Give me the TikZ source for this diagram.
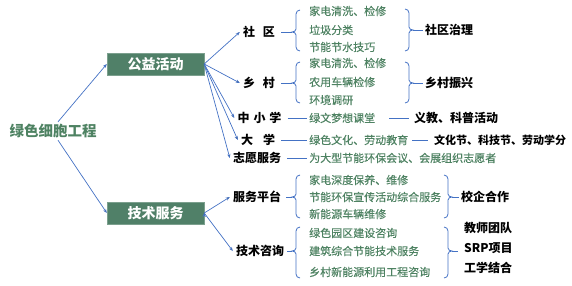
\documentclass[tikz,border=0pt]{standalone}
\usepackage{fontspec}
\setmainfont{Noto Sans CJK SC}
\newfontfamily\itemfont{Noto Sans CJK SC}[FakeBold=0.3]
\usepackage{tikz}
\usetikzlibrary{
    arrows.meta
}
\definecolor{boxgreen}{RGB}{80,128,104}
\definecolor{txtgreen}{RGB}{78,130,98}
\definecolor{lineblue}{RGB}{68,114,196}
\tikzset{
    >={Stealth[length=4pt,width=3.2pt]},
    root/.style={
        font=\fontsize{14.5}{16}\selectfont\bfseries,
        text=txtgreen,
        inner sep=2pt
    },
    block/.style={
        fill=boxgreen,
        draw=boxgreen!75!white,
        text=white,
        font=\fontsize{14}{16}\selectfont\bfseries,
        minimum width=97pt,
        minimum height=22pt
    },
    branch/.style={
        font=\fontsize{12}{14}\selectfont\bfseries,
        inner sep=3pt
    },
    item/.style={
        font=\itemfont\fontsize{11}{13}\selectfont,
        text=txtgreen,
        anchor=west,
        inner sep=2pt
    },
    result/.style={
        font=\fontsize{12}{14}\selectfont\bfseries,
        anchor=west,
        inner sep=2pt
    },
    link/.style={
        draw=lineblue,
        line width=0.7pt
    },
    brk/.style={
        draw=lineblue,
        line width=0.8pt
    }
}

% llaves: x, arriba, abajo, punta, nombre
\newcommand{\leftbrk}[5]{%
    \draw[brk] (#1+4,#2) to[out=180,in=90] (#1,#2+4) -- (#1,#4-3)
        to[out=270,in=0] (#1-4,#4) coordinate (#5)
        to[out=0,in=90] (#1,#4+3) -- (#1,#3-4)
        to[out=270,in=180] (#1+4,#3);}
\newcommand{\rightbrk}[5]{%
    \draw[brk] (#1-4,#2) to[out=0,in=90] (#1,#2+4) -- (#1,#4-3)
        to[out=270,in=180] (#1+4,#4) coordinate (#5)
        to[out=180,in=90] (#1,#4+3) -- (#1,#3-4)
        to[out=270,in=0] (#1-4,#3);}

\begin{document}
\begin{tikzpicture}[
    x=1pt,
    y=-1pt
]
    \useasboundingbox (0,0) rectangle (572,285);

    % Raiz y bloques
    \node[root]  (root) at (53,131)    {绿色细胞工程};
    \node[block] (gy)   at (155.5,64)  {公益活动};
    \node[block] (js)   at (155.5,213) {技术服务};

    % Ramas
    \node[branch] (sq)  at (259,32)    {社\hspace{8pt}区};
    \node[branch] (xc)  at (259,83)    {乡\hspace{8pt}村};
    \node[branch] (zxx) at (259.5,118) {中\hspace{4pt}小\hspace{4pt}学};
    \node[branch] (dx)  at (258,140)   {大\hspace{10pt}学};
    \node[branch] (zy)  at (257,158)   {志愿服务};
    \node[branch] (fw)  at (257,197)   {服务平台};
    \node[branch] (zx)  at (260,251)   {技术咨询};

    % Contenidos
    \node[item] (sq1) at (307,11)  {家电清洗、检修};
    \node[item] (sq2) at (307,30)  {垃圾分类};
    \node[item] (sq3) at (307,47)  {节能节水技巧};
    \node[item] (xc1) at (307,63)  {家电清洗、检修};
    \node[item] (xc2) at (307,82)  {农用车辆检修};
    \node[item] (xc3) at (307,100) {环境调研};
    \node[item] (zxx1) at (307,118) {绿文梦想课堂};
    \node[item] (dx1)  at (307,140) {绿色文化、劳动教育};
    \node[item] (zy1)  at (307,158) {为大型节能环保会议、会展组织志愿者};
    \node[item] (fw1) at (307,180) {家电深度保养、维修};
    \node[item] (fw2) at (307,197) {节能环保宣传活动综合服务};
    \node[item] (fw3) at (307,214) {新能源车辆维修};
    \node[item] (zx1) at (307,233) {绿色园区建设咨询};
    \node[item] (zx2) at (307,251) {建筑综合节能技术服务};
    \node[item] (zx3) at (307,272) {乡村新能源利用工程咨询};

    % Resultados
    \node[result] (sqzl) at (423,30)  {社区治理};
    \node[result] (xczx) at (423,83)  {乡村振兴};
    \node[result] (zxx2) at (412,118) {义教、科普活动};
    \node[result, font=\fontsize{11}{13}\selectfont\bfseries]
                  (dx2)  at (432,140) {文化节、科技节、劳动学分};
    \node[result] (xqhz) at (459,197) {校企合作};
    \node[result] (jstd) at (462,228) {教师团队};
    \node[result] (srp)  at (462,248) {SRP项目};
    \node[result] (gxjh) at (462,268) {工学结合};

    % Llaves
    \leftbrk{296}{10}{51}{32}{lb1}
    \rightbrk{409}{9}{51}{30}{rb1}
    \leftbrk{296}{62}{103}{83}{lb2}
    \rightbrk{409}{62}{103}{83}{rb2}
    \leftbrk{296}{175}{218}{197}{lb3}
    \rightbrk{448}{175}{218}{197}{rb3}
    \leftbrk{296}{227}{278}{251}{lb4}
    \rightbrk{448}{227}{278}{251}{rb4}
    \coordinate (rb4end) at (458,251);

    % Flechas
    \path[->, link]
        ([xshift=5pt]root.north) edge (gy.west)
        ([xshift=5pt]root.south) edge (js.west)
        (gy.east)
            edge (sq.west)
            edge (xc.west)
            edge (zxx.west)
            edge (dx.west)
            edge (zy.west)
        (js.east)
            edge (fw.west)
            edge (zx.west);

    % Lineas
    \path[link]
        (sq.east) edge[shorten <=3pt] (lb1)
        (xc.east) edge[shorten <=3pt] (lb2)
        (fw.east) edge[shorten <=2pt] (lb3)
        (zx.east) edge (lb4)
        (rb1) edge (sqzl.west)
        (rb2) edge (xczx.west)
        (rb3) edge (xqhz.west)
        (rb4) edge (rb4end)
        (zxx.east) edge[shorten <=3pt] (zxx1.west)
        (zxx1.east) edge[shorten <=12pt, shorten >=3pt] (zxx2.west)
        (dx.east) edge[shorten <=3pt] (dx1.west)
        (dx1.east) edge[shorten <=2pt, shorten >=4pt] (dx2.west)
        (zy.east) edge[shorten <=3pt] (zy1.west);

\end{tikzpicture}
\end{document}
